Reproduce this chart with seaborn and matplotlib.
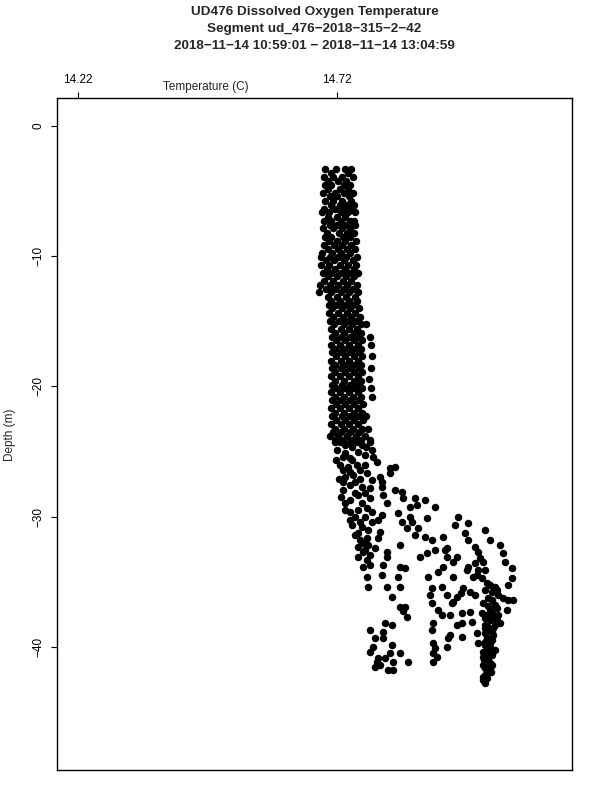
import matplotlib
matplotlib.use("Agg")
import matplotlib.pyplot as plt
import seaborn as sns
import pandas as pd

title_lines = ["UD476 Dissolved Oxygen Temperature",
               "Segment ud_476\u22122018\u2212315\u22122\u221242",
               "2018\u221211\u221214 10:59:01 \u2212 2018\u221211\u221214 13:04:59"]
x_label = "Temperature (C)"
y_label = "Depth (m)"
x_ticks = [14.22, 14.72]
x_tick_labels = ["14.22", "14.72"]
y_ticks = [0, -10, -20, -30, -40]
y_tick_labels = ["0", "\u221210", "\u221220", "\u221230", "\u221240"]

# upper, dense part of the profile (depth of each row, temperatures in that row)
column_depth = [-3.30, -3.62, -3.91, -4.24, -4.52, -4.86, -5.13, -5.41, -5.75, -6.08,
                -6.36, -6.64, -6.97, -7.31, -7.59, -7.86, -8.20, -8.54, -8.81, -9.10,
                -9.43, -9.76, -10.04, -10.31, -10.65, -10.99, -11.26, -11.54, -11.88, -12.21,
                -12.49, -12.77, -13.10, -13.44, -13.72, -13.99, -14.33, -14.67, -14.94, -15.22,
                -15.56, -15.89, -16.17, -16.45, -16.78, -17.12, -17.39, -17.67, -18.01, -18.34,
                -18.62, -18.90, -19.23, -19.39, -19.57, -19.85, -20.12, -20.46, -20.80, -21.07,
                -21.35, -21.69, -22.02, -22.30, -22.58, -22.91, -23.25, -23.52, -23.80, -24.14]
column_temp = [
    [14.697, 14.718, 14.736, 14.747],
    [14.708, 14.741],
    [14.695, 14.712, 14.729, 14.750],
    [14.702, 14.722, 14.738],
    [14.696, 14.709, 14.733, 14.746],
    [14.703, 14.726, 14.742],
    [14.693, 14.716, 14.733, 14.751],
    [14.706, 14.721, 14.744],
    [14.697, 14.713, 14.729, 14.748],
    [14.708, 14.726, 14.740, 14.753],
    [14.695, 14.717, 14.732, 14.745],
    [14.691, 14.704, 14.727, 14.741, 14.755],
    [14.702, 14.720, 14.736],
    [14.695, 14.709, 14.728, 14.745, 14.752],
    [14.706, 14.721, 14.738, 14.755],
    [14.693, 14.713, 14.729, 14.746],
    [14.700, 14.723, 14.740, 14.753],
    [14.696, 14.708, 14.731, 14.745],
    [14.705, 14.720, 14.735, 14.757],
    [14.694, 14.715, 14.729, 14.748],
    [14.703, 14.722, 14.740, 14.754],
    [14.692, 14.710, 14.727, 14.745],
    [14.689, 14.706, 14.722, 14.738, 14.759],
    [14.698, 14.715, 14.733, 14.750],
    [14.689, 14.704, 14.725, 14.741, 14.757],
    [14.700, 14.716, 14.735, 14.752],
    [14.693, 14.709, 14.727, 14.744, 14.761],
    [14.703, 14.721, 14.738, 14.753],
    [14.695, 14.712, 14.731, 14.748],
    [14.687, 14.706, 14.722, 14.740, 14.759],
    [14.699, 14.717, 14.733, 14.751],
    [14.686, 14.708, 14.727, 14.743, 14.761],
    [14.703, 14.720, 14.738, 14.755],
    [14.709, 14.726, 14.744, 14.759],
    [14.704, 14.718, 14.735, 14.751],
    [14.711, 14.729, 14.745, 14.762],
    [14.705, 14.722, 14.740, 14.755],
    [14.712, 14.731, 14.748, 14.764],
    [14.707, 14.724, 14.741, 14.757],
    [14.714, 14.733, 14.749, 14.766, 14.776],
    [14.708, 14.727, 14.743, 14.759],
    [14.716, 14.734, 14.752, 14.766],
    [14.710, 14.728, 14.746, 14.761, 14.784],
    [14.718, 14.736, 14.753, 14.768],
    [14.709, 14.726, 14.743, 14.760, 14.786],
    [14.716, 14.733, 14.751, 14.766],
    [14.711, 14.728, 14.745, 14.762],
    [14.718, 14.736, 14.753, 14.768, 14.788],
    [14.708, 14.727, 14.744, 14.761],
    [14.716, 14.733, 14.751, 14.766],
    [14.711, 14.728, 14.746, 14.762, 14.786],
    [14.717, 14.735, 14.753, 14.768],
    [14.709, 14.726, 14.743, 14.760],
    [14.782],
    [14.716, 14.734, 14.752, 14.766],
    [14.710, 14.729, 14.745, 14.763],
    [14.718, 14.735, 14.753, 14.768, 14.786],
    [14.709, 14.726, 14.744, 14.761],
    [14.716, 14.734, 14.751, 14.766, 14.788],
    [14.711, 14.728, 14.745, 14.762],
    [14.718, 14.736, 14.753, 14.770],
    [14.708, 14.726, 14.743, 14.761],
    [14.716, 14.734, 14.752, 14.768],
    [14.710, 14.729, 14.745, 14.762, 14.776],
    [14.718, 14.735, 14.753, 14.770],
    [14.708, 14.727, 14.744, 14.761],
    [14.716, 14.734, 14.751, 14.768, 14.780],
    [14.712, 14.728, 14.746, 14.762],
    [14.706, 14.722, 14.739, 14.757, 14.774],
    [14.716, 14.732, 14.749, 14.766, 14.784],
]

# middle part, where the profile fans out to warmer water
mid_depth = [-24.29, -24.52, -24.67, -24.90, -25.06, -25.13, -25.29, -25.44, -25.52, -25.67,
             -25.82, -26.05, -26.21, -26.28, -26.44, -26.59, -26.67, -26.82, -26.97, -27.13,
             -27.20, -27.36, -27.59, -27.74, -27.82, -27.97, -28.12, -28.20, -28.35, -28.51,
             -28.58, -28.74, -28.97, -29.12, -29.27, -29.35, -29.50, -29.66, -29.73, -29.89,
             -30.04, -30.11, -30.27, -30.42, -30.50, -30.65, -30.80, -30.88, -31.03, -31.19,
             -31.26, -31.42, -31.57, -31.65, -31.80, -32.03, -32.18, -32.34, -32.41, -32.57,
             -32.72, -32.80, -32.95, -33.10, -33.18, -33.33, -33.49, -33.56, -33.72, -33.87,
             -33.95, -34.10, -34.25, -34.48, -34.64, -34.71]
mid_temp = [
    [14.716, 14.726, 14.745, 14.759, 14.784],
    [14.735, 14.768],
    [14.749, 14.776],
    [14.720, 14.788],
    [14.761],
    [14.735],
    [14.774],
    [14.732, 14.789],
    [14.745],
    [14.718, 14.749],
    [14.797],
    [14.726, 14.759, 14.774],
    [14.741, 14.832],
    [14.822],
    [14.732, 14.764],
    [14.745],
    [14.778, 14.822],
    [14.751],
    [14.735, 14.803],
    [14.724, 14.764],
    [14.788],
    [14.732, 14.755, 14.807],
    [14.745],
    [14.768, 14.807],
    [14.784],
    [14.732, 14.832],
    [14.845],
    [14.755, 14.774],
    [14.761, 14.809],
    [14.728],
    [14.784, 14.847, 14.871],
    [14.745, 14.890],
    [14.735, 14.768, 14.817],
    [14.874],
    [14.861, 14.909],
    [14.778],
    [14.735, 14.761],
    [14.745, 14.788],
    [14.838],
    [14.807],
    [14.755, 14.774, 14.861, 14.954],
    [14.894],
    [14.745, 14.799],
    [14.764, 14.788, 14.845, 14.865],
    [14.973],
    [14.749, 14.948],
    [14.768],
    [14.855, 14.876],
    [14.780, 15.006],
    [14.803],
    [14.761, 14.967],
    [14.755, 14.871],
    [14.890, 14.925],
    [14.778, 14.799],
    [14.764, 14.903, 14.973, 15.015],
    [14.770],
    [14.780, 14.842, 15.035],
    [14.761, 14.986],
    [14.793, 14.932],
    [14.774, 14.909, 14.928],
    [14.770, 14.817, 14.992],
    [14.894, 15.041],
    [14.784],
    [14.761, 14.817, 14.880, 14.932, 14.952],
    [14.996],
    [14.778],
    [14.944, 15.002, 15.044],
    [14.986],
    [14.784, 14.809],
    [14.770, 14.842, 14.925, 14.973],
    [14.851, 15.058],
    [14.971, 14.992, 15.006],
    [14.915],
    [14.807, 14.990],
    [14.778, 14.838, 14.896, 14.944, 14.983],
    [15.000, 15.058],
]

# deepest part
deep_depth = [-35.10, -35.25, -35.40, -35.48, -35.63, -35.79, -35.86, -36.02, -36.17, -36.25,
              -36.40, -36.55, -36.63, -36.78, -36.86, -36.93, -37.01, -37.16, -37.24, -37.32,
              -37.39, -37.55, -37.70, -37.78, -37.93, -38.08, -38.16, -38.31, -38.47, -38.54,
              -38.70, -38.85, -38.93, -39.08, -39.23, -39.31, -39.46, -39.62, -39.69, -39.85,
              -40.00, -40.08, -40.23, -40.38, -40.46, -40.61, -40.77, -40.84, -41.00, -41.15,
              -41.23, -41.38, -41.53, -41.61, -41.76, -41.91, -41.99, -42.15, -42.30, -42.38,
              -42.53, -42.76]
deep_temp = [
    [15.010],
    [15.015, 15.050],
    [14.780, 14.817, 14.842, 14.923, 15.025],
    [14.903, 14.963],
    [15.006, 15.029],
    [14.977, 15.019],
    [14.959],
    [14.900, 14.932, 14.986, 15.031],
    [14.826, 14.952],
    [15.011, 15.041],
    [15.019, 15.050, 15.060],
    [14.944],
    [14.903, 14.942, 15.002],
    [15.025],
    [15.011],
    [14.842, 14.851],
    [15.029],
    [14.915, 15.015, 15.048],
    [14.847],
    [14.977],
    [14.961, 15.000, 15.019],
    [14.923, 14.938, 15.010, 15.031],
    [14.855],
    [15.006, 15.021],
    [15.015, 15.029],
    [14.981],
    [14.813, 14.905, 14.961, 15.035],
    [14.826, 14.952, 15.006, 15.025],
    [15.011],
    [15.006, 15.021],
    [14.784, 14.903, 15.015],
    [14.809, 15.019],
    [14.990, 15.006],
    [14.938, 15.021],
    [14.961],
    [14.793, 14.809, 14.934, 15.010],
    [15.019],
    [15.006],
    [14.905, 14.992, 15.015],
    [14.826, 15.006],
    [14.789, 14.932, 15.015],
    [14.909],
    [15.011, 15.025],
    [14.784, 15.002],
    [14.822, 14.842, 14.905],
    [15.010, 15.019],
    [14.913, 15.002],
    [14.799, 14.813],
    [15.004, 15.011],
    [14.797, 14.828, 14.857, 14.905],
    [15.015],
    [14.803, 15.002, 15.019],
    [14.793],
    [15.006, 15.015],
    [14.818, 14.828, 15.010],
    [15.017],
    [15.010],
    [15.006],
    [15.002],
    [15.010],
    [15.002],
    [15.006],
]

records = []
for depths, temps in ((column_depth, column_temp), (mid_depth, mid_temp), (deep_depth, deep_temp)):
    for d, row in zip(depths, temps):
        for t in row:
            records.append({"Temperature": t, "Depth": d})
df = pd.DataFrame(records)

sns.set_theme(style="white")
plt.rcParams["font.family"] = ["Liberation Sans", "DejaVu Sans"]

W, H = 600, 800
fig = plt.figure(figsize=(6, 8), dpi=100)
left, right, top, bottom = 57, 572, 98, 770
ax = fig.add_axes([left / W, 1 - bottom / H, (right - left) / W, (bottom - top) / H])

sns.scatterplot(data=df, x="Temperature", y="Depth", ax=ax, color="black",
                s=29, linewidth=0, legend=False)

ax.set_xlim(14.1795, 15.1737)
ax.set_ylim(-49.45, 2.15)

ax.xaxis.tick_top()
ax.set_xticks(x_ticks)
ax.set_xticklabels(x_tick_labels)
ax.set_yticks(y_ticks)
ax.set_yticklabels(y_tick_labels, rotation=90, va="center")
ax.tick_params(axis="x", direction="out", length=4.3, width=0.8, pad=4,
               labelsize=8.5, colors="black", top=True, bottom=False)
ax.tick_params(axis="y", direction="out", length=4.3, width=0.8, pad=5,
               labelsize=8.5, colors="black", left=True)
ax.set_xlabel("")
ax.set_ylabel("")
for sp in ax.spines.values():
    sp.set_visible(True)
    sp.set_color("black")
    sp.set_linewidth(1.0)

fig.text(206 / W, 1 - 87 / H, x_label, ha="center", va="center", fontsize=8.5)
fig.text(10 / W, 1 - 435 / H, y_label, ha="center", va="center", rotation=90, fontsize=8.5)

cx = (left + right) / 2 / W
for i, line in enumerate(title_lines):
    fig.text(cx, 1 - (12 + 17 * i) / H, line, ha="center", va="center",
             fontsize=9.7, fontweight="bold")

fig.savefig("out.png", dpi=100, facecolor="white")
